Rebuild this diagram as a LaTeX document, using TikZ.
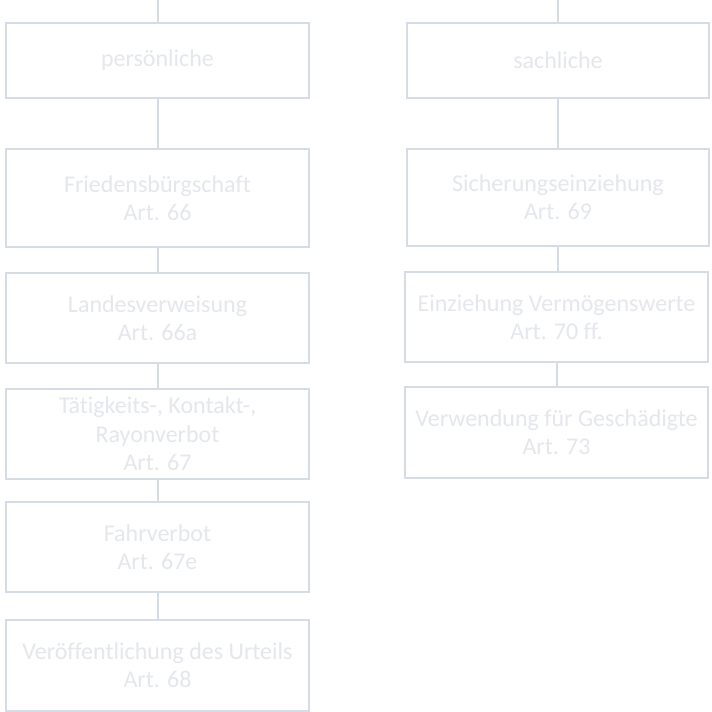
\documentclass[tikz,border=0pt]{standalone}
\usepackage{fontspec}
\setmainfont{Carlito}[Ligatures={NoCommon}]
\definecolor{boxline}{RGB}{214,220,229}
\definecolor{boxtext}{RGB}{228,231,236}
\begin{document}
\begin{tikzpicture}[x=1pt,y=-1pt,
  box/.style={draw=boxline,line width=2pt,fill=white,rectangle,inner sep=0pt,
    align=center,text=boxtext,font=\fontsize{24}{28.4}\selectfont},
  conn/.style={draw=boxline,line width=2pt}]
\useasboundingbox (0,0) rectangle (712,712);
% left column
\node[box,minimum width=303pt,minimum height=75pt] (l1) at (157.5,60.5) {persönliche};
\node[box,minimum width=303pt,minimum height=98pt] (l2) at (157.5,198) {Friedensbürgschaft\\Art. 66};
\node[box,minimum width=303pt,minimum height=90pt] (l3) at (157.5,318) {Landesverweisung\\Art. 66a};
\node[box,minimum width=303pt,minimum height=90pt] (l4) at (157.5,434) {Tätigkeits-, Kontakt-,\\Rayonverbot\\Art. 67};
\node[box,minimum width=303pt,minimum height=90pt] (l5) at (157.5,547) {Fahrverbot\\Art. 67e};
\node[box,minimum width=303pt,minimum height=91pt] (l6) at (157.5,665) {Veröffentlichung des Urteils\\Art. 68};
% right column
\node[box,minimum width=302pt,minimum height=75pt] (r1) at (558,60.5) {sachliche};
\node[box,minimum width=302pt,minimum height=97pt] (r2) at (558,197.5) {Sicherungseinziehung\\Art. 69};
\node[box,minimum width=303pt,minimum height=90pt] (r3) at (556.5,317) {Einziehung Vermögenswerte\\Art. 70 ff.};
\node[box,minimum width=303pt,minimum height=91pt] (r4) at (556.5,432.5) {Verwendung für Geschädigte\\Art. 73};
% connectors
\coordinate (ltop) at (157.5,0);
\coordinate (rtop) at (558,0);
\draw[conn] (ltop) -- (l1.north);
\draw[conn] (rtop) -- (r1.north);
\draw[conn] (l1.south) -- (l2.north);
\draw[conn] (l2.south) -- (l3.north);
\draw[conn] (l3.south) -- (l4.north);
\draw[conn] (l4.south) -- (l5.north);
\draw[conn] (l5.south) -- (l6.north);
\draw[conn] (r1.south) -- (r1.south |- r2.north);
\draw[conn] (r2.south) -- (r2.south |- r3.north);
\draw[conn] (r3.south) -- (r4.north);
\end{tikzpicture}
\end{document}
